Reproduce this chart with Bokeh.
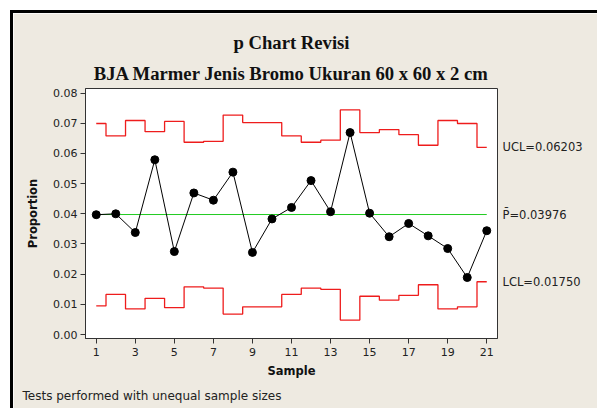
from bokeh.plotting import figure
from bokeh.models import FixedTicker, NumeralTickFormatter, LinearAxis, Title
from bokeh.embed import file_html
from bokeh.resources import INLINE

samples = list(range(1, 22))
proportion = [0.0397, 0.0400, 0.0338, 0.0579, 0.0275, 0.0469, 0.0445, 0.0538, 0.0272, 0.0383, 0.0421,
              0.0510, 0.0407, 0.0669, 0.0402, 0.0324, 0.0368, 0.0327, 0.0285, 0.0189, 0.0344]
ucl = [0.0699, 0.0658, 0.0709, 0.0672, 0.0706, 0.0637, 0.0640, 0.0727, 0.0702, 0.0702, 0.0658,
       0.0637, 0.0644, 0.0744, 0.0669, 0.0679, 0.0662, 0.0627, 0.0709, 0.0699, 0.0620]
lcl = [0.0095, 0.0133, 0.0085, 0.0120, 0.0089, 0.0158, 0.0154, 0.0068, 0.0092, 0.0092, 0.0133,
       0.0154, 0.0150, 0.0048, 0.0127, 0.0114, 0.0130, 0.0165, 0.0085, 0.0092, 0.0175]
pbar = 0.03976
ucl_value = 0.06203
lcl_value = 0.01750
ucl_text = "UCL=0.06203"
pbar_text = "P\u0304=0.03976"
lcl_text = "LCL=0.01750"
x_ticks = [1, 3, 5, 7, 9, 11, 13, 15, 17, 19, 21]
y_ticks = [0.00, 0.01, 0.02, 0.03, 0.04, 0.05, 0.06, 0.07, 0.08]
title1 = "p Chart Revisi"
title2 = "BJA Marmer Jenis Bromo Ukuran 60 x 60 x 2 cm"
footer = "Tests performed with unequal sample sizes"

BG = "#EEEAE1"
SANS = "DejaVu Sans"

p = figure(width=584, height=395, x_range=(0.45, 21.55), y_range=(-0.0013, 0.0815),
           output_backend="svg", toolbar_location=None,
           min_border_left=72, min_border_right=100, min_border_top=75, min_border_bottom=68,
           border_fill_color=BG, background_fill_color="white",
           outline_line_color="#333333", outline_line_width=1)
p.styles = {"position": "relative", "left": "13px", "top": "13px",
            "box-shadow": "0 0 0 3px black"}

p.xgrid.visible = False
p.ygrid.visible = False

for ax in (p.xaxis[0], p.yaxis[0]):
    ax.axis_line_color = "#333333"
    ax.major_tick_line_color = "#333333"
    ax.major_tick_out = 5
    ax.major_tick_in = 0
    ax.minor_tick_line_color = None
    ax.major_label_text_font = SANS
    ax.major_label_text_font_size = "11px"
    ax.major_label_text_color = "#222222"
    ax.axis_label_text_font = SANS
    ax.axis_label_text_font_size = "11.5px"
    ax.axis_label_text_font_style = "bold"
    ax.axis_label_text_color = "#111111"

p.xaxis.ticker = FixedTicker(ticks=x_ticks)
p.yaxis.ticker = FixedTicker(ticks=y_ticks)
p.yaxis.formatter = NumeralTickFormatter(format="0.00")
p.xaxis.axis_label = "Sample"
p.yaxis.axis_label = "Proportion"
p.xaxis.major_label_standoff = 4
p.xaxis.axis_label_standoff = 5
p.yaxis.major_label_standoff = 3
p.yaxis.axis_label_standoff = 10

# right-side limit labels as an axis
rax = LinearAxis(ticker=FixedTicker(ticks=[ucl_value, pbar, lcl_value]),
                 major_label_overrides={ucl_value: ucl_text, pbar: pbar_text, lcl_value: lcl_text},
                 axis_line_color=None, major_tick_line_color=None, minor_tick_line_color=None,
                 major_tick_out=0, major_tick_in=0, major_label_standoff=5,
                 major_label_text_font=SANS, major_label_text_font_size="11.5px",
                 major_label_text_color="#222222")
p.add_layout(rax, "right")

# control limits (step lines)
p.step(samples, ucl, mode="center", line_color="#EE1C1C", line_width=1.3)
p.step(samples, lcl, mode="center", line_color="#EE1C1C", line_width=1.3)
# center line
p.line([samples[0], samples[-1]], [pbar, pbar], line_color="#22CC22", line_width=1)
# data
p.line(samples, proportion, line_color="black", line_width=1)
p.scatter(samples, proportion, size=8, fill_color="black", line_color="black")

tkw = dict(text_font="Liberation Serif", text_font_size="14pt", text_font_style="bold",
           text_color="#111111", align="center")
p.add_layout(Title(text=title2, standoff=9, **tkw), "above")
p.add_layout(Title(text=title1, standoff=8, **tkw), "above")

p.add_layout(Title(text=footer, text_font=SANS, text_font_size="12px", text_font_style="normal",
                   text_color="#222222", align="left", offset=-63, standoff=12), "below")

open("out.html", "w").write(file_html(p, INLINE))
